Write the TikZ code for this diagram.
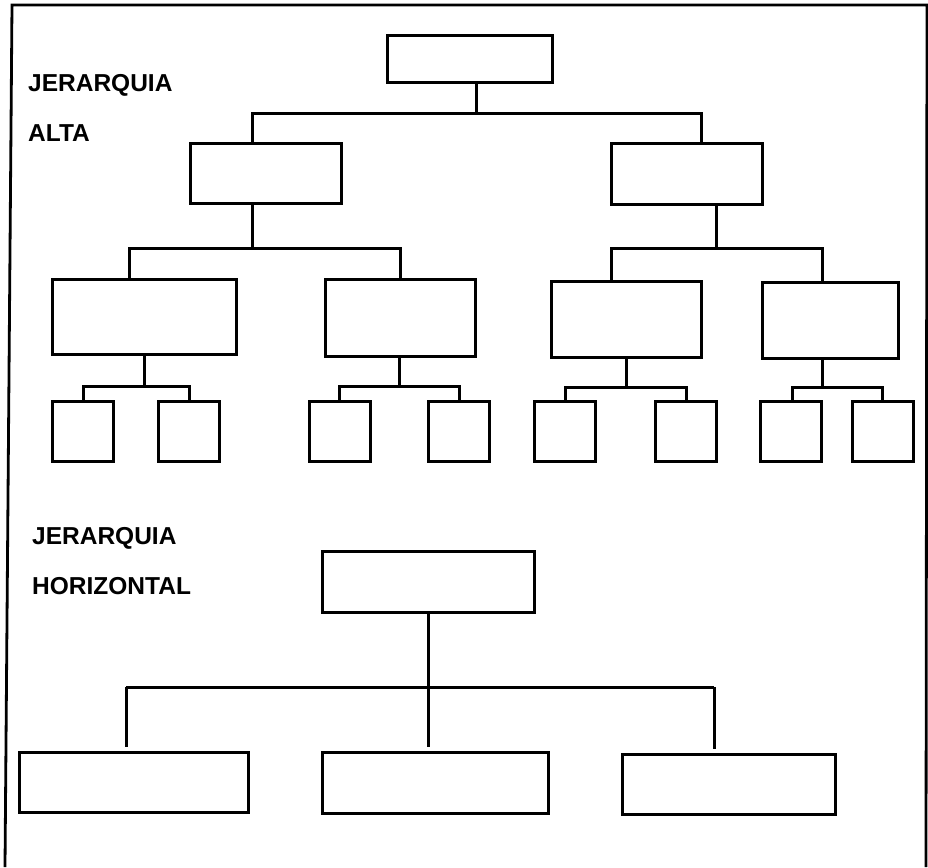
\documentclass[tikz,border=0pt]{standalone}
\usepackage{fontspec}
\setmainfont{Liberation Sans}
\begin{document}
\begin{tikzpicture}[x=1pt,y=-1pt,
  bx/.style={draw=black, line width=3pt, inner sep=0pt, fill=none},
  ln/.style={draw=black, line width=3pt},
  frm/.style={draw=black, line width=2.8pt},
  lbl/.style={anchor=base west, inner sep=0pt, font=\fontsize{24.5}{30}\selectfont\bfseries}]
\useasboundingbox (0,0) rectangle (928,867);
% frame (open at bottom)
\coordinate (f1) at (5,867);
\coordinate (f2) at (12,5);
\coordinate (f3) at (927,5);
\coordinate (f4) at (926,867);
\draw[frm] (f1) -- (f2) -- (f3) -- (f4);
% labels
\node[lbl] (t1) at (28,91) {JERARQUIA};
\node[lbl] (t2) at (28,141) {ALTA};
\node[lbl] (t3) at (32,544) {JERARQUIA};
\node[lbl] (t4) at (32,594) {HORIZONTAL};
% upper hierarchy
\node[bx, minimum width=165pt, minimum height=46pt] (top) at (469.5,59) {};
\node[bx, minimum width=151pt, minimum height=60pt] (L) at (265.5,173) {};
\node[bx, minimum width=151pt, minimum height=61pt] (R) at (686.5,173.5) {};
\node[bx, minimum width=184pt, minimum height=75pt] (A) at (144,316.5) {};
\node[bx, minimum width=150pt, minimum height=77pt] (B) at (400,317.5) {};
\node[bx, minimum width=150pt, minimum height=76pt] (C) at (626,319) {};
\node[bx, minimum width=136pt, minimum height=76pt] (D) at (830,320) {};
\foreach \n/\x in {A1/82.5,A2/188.5,B1/339.5,B2/459,C1/565,C2/685.5,D1/791,D2/882.5}
  \node[bx, minimum width=61pt, minimum height=60pt] (\n) at (\x,431.5) {};
% connectors level 1
\coordinate (j0) at (476,113);
\coordinate (j0l) at (252,113);
\coordinate (j0r) at (701,113);
\draw[ln] (top.south -| j0) -- (j0);
\draw[ln] (L.north -| j0l) -- (j0l) -- (j0r) -- (R.north -| j0r);
% connectors level 2
\coordinate (jL) at (252,248);
\coordinate (jLa) at (129,248);
\coordinate (jLb) at (400,248);
\draw[ln] (L.south -| jL) -- (jL);
\draw[ln] (A.north -| jLa) -- (jLa) -- (jLb) -- (B.north -| jLb);
\coordinate (jR) at (716,248);
\coordinate (jRa) at (611,248);
\coordinate (jRb) at (822,248);
\draw[ln] (R.south -| jR) -- (jR);
\draw[ln] (C.north -| jRa) -- (jRa) -- (jRb) -- (D.north -| jRb);
% connectors level 3
\foreach \p/\px/\y/\ca/\xa/\cb/\xb in {A/144/386/A1/83/A2/189, B/399/386/B1/339/B2/459, C/626/387/C1/565/C2/686, D/822/387/D1/792/D2/882}{
  \coordinate (k\p) at (\px,\y);
  \coordinate (k\p a) at (\xa,\y);
  \coordinate (k\p b) at (\xb,\y);
  \draw[ln] (\p.south -| k\p) -- (k\p);
  \draw[ln] (\ca.north -| k\p a) -- (k\p a) -- (k\p b) -- (\cb.north -| k\p b);
}
% horizontal hierarchy
\node[bx, minimum width=212pt, minimum height=61pt] (H) at (428,581.5) {};
\node[bx, minimum width=229pt, minimum height=60pt] (H1) at (133.5,782) {};
\node[bx, minimum width=226pt, minimum height=61pt] (H2) at (435,782.5) {};
\node[bx, minimum width=213pt, minimum height=60pt] (H3) at (728.5,784) {};
\coordinate (hm) at (428,687);
\coordinate (hl) at (126,687);
\coordinate (hr) at (714,687);
\draw[ln, shorten >=4pt] (H.south -| hm) -- (H2.north -| hm);
\draw[ln, shorten >=4pt] (hl) -- (H1.north -| hl);
\draw[ln, shorten >=4pt] (hr) -- (H3.north -| hr);
\draw[ln] (hl) -- (hr);
\end{tikzpicture}
\end{document}
